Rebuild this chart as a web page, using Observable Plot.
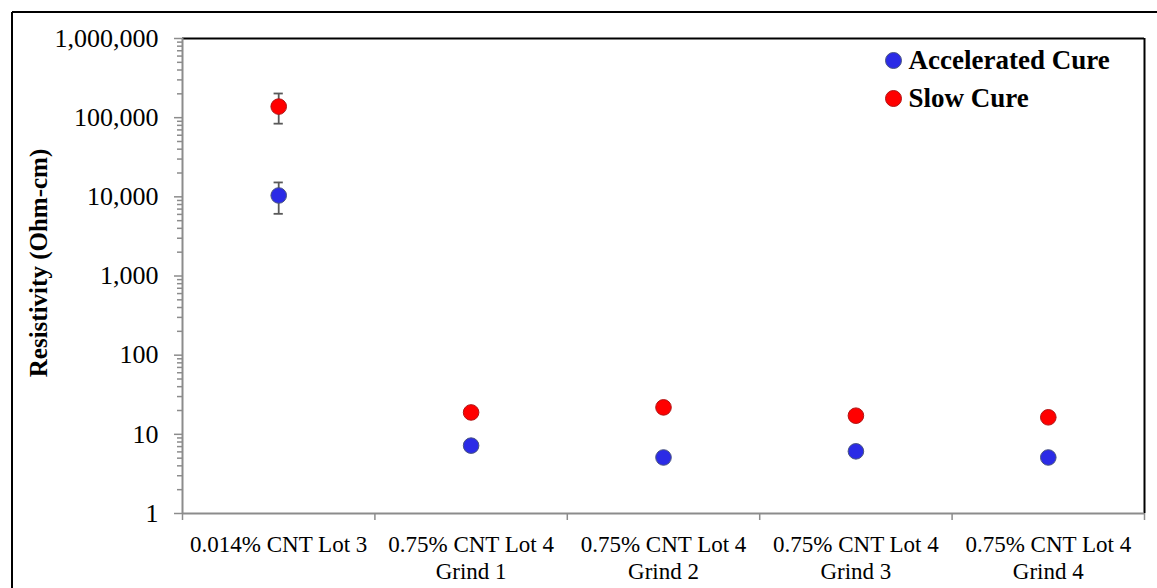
<!DOCTYPE html>
<html>
<head>
<meta charset="utf-8">
<script src="https://cdn.jsdelivr.net/npm/d3@7"></script>
<script src="https://cdn.jsdelivr.net/npm/@observablehq/plot@0.6"></script>
<style>
  html, body { margin: 0; padding: 0; background: #fff; }
  #chart svg { display: block; }
  #chart svg, #chart svg text { font-family: "Liberation Serif", "Times New Roman", serif !important; }
</style>
</head>
<body>
<div id="chart"></div>
<script>
// ---- data ----
const categories = [
  "0.014% CNT Lot 3",
  "0.75% CNT Lot 4\nGrind 1",
  "0.75% CNT Lot 4\nGrind 2",
  "0.75% CNT Lot 4\nGrind 3",
  "0.75% CNT Lot 4\nGrind 4"
];
const seriesNames = ["Accelerated Cure", "Slow Cure"];
const accel   = [10400, 7.2, 5.1, 6.1, 5.1];
const accelLo = [6100, 6.9, 4.4, 5.8, 4.9];
const accelHi = [15200, 7.6, 5.9, 6.4, 5.3];
const slow    = [138000, 18.9, 21.9, 17.2, 16.4];
const slowLo  = [84000, 17.0, 21.0, 16.6, 15.8];
const slowHi  = [202000, 20.6, 22.8, 17.8, 17.0];
const majorTicks = [1, 10, 100, 1000, 10000, 100000, 1000000];

const colors = {"Accelerated Cure": "#2b2be6", "Slow Cure": "#ff0000"};
const strokes = {"Accelerated Cure": "#4a5580", "Slow Cure": "#b01515"};

const rows = [];
categories.forEach((c, i) => {
  rows.push({i, series: seriesNames[0], v: accel[i], lo: accelLo[i], hi: accelHi[i]});
  rows.push({i, series: seriesNames[1], v: slow[i], lo: slowLo[i], hi: slowHi[i]});
});
const minorTicks = [];
majorTicks.slice(0, -1).forEach(d => { for (let k = 2; k <= 9; k++) minorTicks.push(d * k); });
const boundaries = d3.range(categories.length + 1);
const capHalf = 0.024;
const font = '"Liberation Serif", "Times New Roman", serif';

const plot = Plot.plot({
  width: 1157,
  height: 588,
  marginLeft: 182,
  marginRight: 13,
  marginTop: 38,
  marginBottom: 75,
  style: {fontFamily: font, background: "#fff", overflow: "visible"},
  x: {type: "linear", domain: [0, categories.length]},
  y: {type: "log", domain: [1, 1000000]},
  marks: [
    // plot-area borders
    Plot.ruleY([1000000], {stroke: "black", strokeWidth: 2}),
    Plot.ruleX([categories.length], {stroke: "black", strokeWidth: 2}),
    Plot.ruleX([0], {stroke: "#8c8c8c", strokeWidth: 2}),
    Plot.ruleY([1], {stroke: "#8c8c8c", strokeWidth: 2}),
    // axes
    Plot.axisY(minorTicks, {tickSize: 5, tickFormat: () => "", stroke: "#8c8c8c", strokeWidth: 1.5}),
    Plot.axisY(majorTicks, {tickSize: 8, tickPadding: 16, tickFormat: d3.format(","), fontSize: 26, fontFamily: font, fill: "black", stroke: "#8c8c8c", strokeWidth: 1.5, label: null}),
    Plot.axisX(boundaries, {tickSize: 7, tickFormat: () => "", stroke: "#8c8c8c", strokeWidth: 1.5, label: null}),
    Plot.text(categories, {x: (d, i) => i + 0.5, frameAnchor: "bottom", lineAnchor: "top", textAnchor: "middle", dy: 19, fontSize: 23, fontFamily: font, lineHeight: 1.17, fill: "black"}),
    Plot.text(["Resistivity (Ohm-cm)"], {frameAnchor: "left", rotate: -90, textAnchor: "middle", lineAnchor: "middle", dx: -144, dy: -13, fontSize: 25, fontFamily: font, fontWeight: "bold", fill: "black"}),
    // error bars
    Plot.ruleX(rows, {x: d => d.i + 0.5, y1: "lo", y2: "hi", stroke: "#595959", strokeWidth: 1.8}),
    Plot.ruleY(rows, {y: "hi", x1: d => d.i + 0.5 - capHalf, x2: d => d.i + 0.5 + capHalf, stroke: "#595959", strokeWidth: 1.8}),
    Plot.ruleY(rows, {y: "lo", x1: d => d.i + 0.5 - capHalf, x2: d => d.i + 0.5 + capHalf, stroke: "#595959", strokeWidth: 1.8}),
    // points
    Plot.dot(rows, {x: d => d.i + 0.5, y: "v", r: 7.8, fill: d => colors[d.series], stroke: d => strokes[d.series], strokeWidth: 1}),
    // legend
    ...seriesNames.map((s, k) => Plot.dot([s], {frameAnchor: "top-right", dx: -251, dy: 22 + 38 * k, r: 8, fill: colors[s], stroke: strokes[s], strokeWidth: 1})),
    ...seriesNames.map((s, k) => Plot.text([s], {frameAnchor: "top-right", dx: -236, dy: 22 + 38 * k, textAnchor: "start", lineAnchor: "middle", fontSize: 27, fontFamily: font, fontWeight: "bold", fill: "black"}))
  ]
});

// outer frame (top and left edges visible in the reference)
const svg = d3.select(plot);
svg.append("line").attr("x1", 12).attr("y1", 12).attr("x2", 1157).attr("y2", 12).attr("stroke", "black").attr("stroke-width", 2);
svg.append("line").attr("x1", 12).attr("y1", 12).attr("x2", 12).attr("y2", 588).attr("stroke", "black").attr("stroke-width", 2);

document.getElementById("chart").appendChild(plot);
</script>
</body>
</html>
